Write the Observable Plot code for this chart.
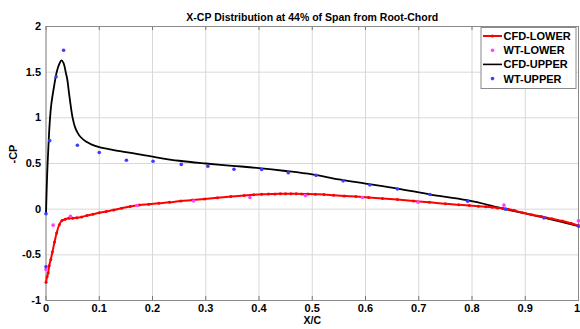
<!DOCTYPE html>
<html>
<head>
<meta charset="utf-8">
<script src="https://cdn.jsdelivr.net/npm/d3@7"></script>
<script src="https://cdn.jsdelivr.net/npm/@observablehq/plot@0.6"></script>
<style>
  html, body { margin: 0; padding: 0; background: #fff; }
  #chart svg { display: block; font-family: "Liberation Sans", Arial, sans-serif; }
</style>
</head>
<body>
<div id="chart"></div>
<script>
// Pressure coefficient (-Cp) along the chord, 44% span station
const chartTitle = "X-CP Distribution at 44% of Span from Root-Chord";
const xTicks = [0, 0.1, 0.2, 0.3, 0.4, 0.5, 0.6, 0.7, 0.8, 0.9, 1];
const xTickLabels = ["0", "0.1", "0.2", "0.3", "0.4", "0.5", "0.6", "0.7", "0.8", "0.9", "1"];
const yTicks = [-1, -0.5, 0, 0.5, 1, 1.5, 2];
const yTickLabels = ["-1", "-0.5", "0", "0.5", "1", "1.5", "2"];
const seriesNames = ["CFD-LOWER", "WT-LOWER", "CFD-UPPER", "WT-UPPER"];

// CFD, lower surface
const cfdLowerX = [0, 0.002, 0.004, 0.006, 0.009, 0.012, 0.016, 0.020, 0.025, 0.030, 0.036, 0.043, 0.050, 0.058, 0.067, 0.077, 0.088, 0.100, 0.113, 0.127, 0.142, 0.158, 0.175, 0.193, 0.212, 0.232, 0.253, 0.275, 0.298, 0.322, 0.347, 0.372, 0.390, 0.405, 0.418, 0.430, 0.440, 0.450, 0.460, 0.470, 0.480, 0.492, 0.506, 0.522, 0.540, 0.560, 0.582, 0.606, 0.632, 0.660, 0.690, 0.720, 0.750, 0.775, 0.795, 0.812, 0.826, 0.838, 0.848, 0.858, 0.868, 0.880, 0.895, 0.912, 0.930, 0.950, 0.970, 0.986, 1.0];
const cfdLowerCp = [-0.80, -0.74, -0.70, -0.62, -0.55, -0.47, -0.36, -0.26, -0.17, -0.125, -0.11, -0.10, -0.10, -0.095, -0.085, -0.07, -0.055, -0.04, -0.025, -0.01, 0.01, 0.03, 0.045, 0.055, 0.065, 0.075, 0.09, 0.10, 0.112, 0.125, 0.138, 0.15, 0.158, 0.163, 0.165, 0.167, 0.168, 0.169, 0.169, 0.168, 0.167, 0.165, 0.163, 0.16, 0.153, 0.145, 0.138, 0.128, 0.118, 0.105, 0.09, 0.075, 0.058, 0.048, 0.04, 0.032, 0.026, 0.02, 0.014, 0.008, 0.0, -0.015, -0.04, -0.06, -0.08, -0.105, -0.13, -0.155, -0.18];

// Wind tunnel, lower surface
const wtLowerX = [0, 0.0135, 0.046, 0.171, 0.277, 0.383, 0.487, 0.594, 0.699, 0.860, 1.0];
const wtLowerCp = [-0.66, -0.175, -0.077, 0.04, 0.09, 0.128, 0.15, 0.128, 0.077, 0.044, -0.128];

// CFD, upper surface
const cfdUpperX = [0, 0.002, 0.004, 0.007, 0.010, 0.015, 0.020, 0.025, 0.029, 0.033, 0.037, 0.040, 0.043, 0.046, 0.050, 0.055, 0.060, 0.065, 0.075, 0.085, 0.100, 0.125, 0.150, 0.175, 0.200, 0.250, 0.300, 0.350, 0.400, 0.450, 0.500, 0.550, 0.600, 0.660, 0.722, 0.791, 0.863, 0.929, 1.0];
const cfdUpperCp = [-0.05, 0.35, 0.62, 0.95, 1.15, 1.34, 1.50, 1.59, 1.63, 1.60, 1.50, 1.42, 1.28, 1.15, 1.00, 0.89, 0.83, 0.79, 0.74, 0.71, 0.68, 0.65, 0.625, 0.60, 0.575, 0.53, 0.50, 0.475, 0.45, 0.418, 0.38, 0.325, 0.28, 0.226, 0.16, 0.098, 0.0, -0.084, -0.186];

// Wind tunnel, upper surface
const wtUpperX = [0, 0, 0.007, 0.019, 0.033, 0.059, 0.10, 0.151, 0.201, 0.254, 0.304, 0.353, 0.405, 0.455, 0.507, 0.558, 0.608, 0.660, 0.721, 0.792, 0.863, 0.935, 1.0];
const wtUpperCp = [-0.05, -0.63, 0.75, 1.45, 1.74, 0.70, 0.62, 0.535, 0.525, 0.49, 0.47, 0.437, 0.434, 0.40, 0.37, 0.31, 0.266, 0.22, 0.16, 0.087, 0.0, -0.095, -0.186];

const colors = { cfdLower: "#ff0000", wtLower: "#ff40ff", cfdUpper: "#000000", wtUpper: "#3c3cff" };

const pts = (xs, ys) => xs.map((x, i) => ({ x, cp: ys[i] }));
const cfdLower = pts(cfdLowerX, cfdLowerCp);
const wtLower = pts(wtLowerX, wtLowerCp);
const cfdUpper = pts(cfdUpperX, cfdUpperCp);
const wtUpper = pts(wtUpperX, wtUpperCp);

const W = 580, H = 329;
const mt = 26, mb = 29, ml = 45.5, mr = 2;
const innerH = H - mt - mb;
const font = "Liberation Sans, Arial, sans-serif";
const lastTick = xTicks.length - 1;
const xLabel = d => xTickLabels[xTicks.indexOf(d)];

const plot = Plot.plot({
  width: W,
  height: H,
  marginTop: mt,
  marginBottom: mb,
  marginLeft: ml,
  marginRight: mr,
  style: { fontFamily: font, fontSize: "11px", fontWeight: "bold", color: "#000", background: "#fff" },
  x: { domain: [0, 1] },
  y: { domain: [-1, 2] },
  marks: [
    Plot.gridX(xTicks, { stroke: "#d8d8d8", strokeOpacity: 1, strokeWidth: 1 }),
    Plot.gridY(yTicks, { stroke: "#d8d8d8", strokeOpacity: 1, strokeWidth: 1 }),
    // inward tick marks on top and bottom edges
    Plot.tickX(xTicks, { x: d => d, stroke: "#777", insetBottom: innerH - 4 }),
    Plot.tickX(xTicks, { x: d => d, stroke: "#777", insetTop: innerH - 4 }),
    Plot.frame({ stroke: "#8a8a8a" }),
    Plot.axisX(xTicks.slice(0, lastTick), { tickSize: 0, tickPadding: 4, tickFormat: xLabel, fontWeight: "bold", fontSize: 11, label: null }),
    // the "1" at the right edge is nudged inward so it stays inside the page
    Plot.axisX(xTicks.slice(lastTick), { tickSize: 0, tickPadding: 4, tickFormat: xLabel, fontWeight: "bold", fontSize: 11, label: null, dx: -1.5 }),
    Plot.axisY(yTicks, { tickSize: 0, tickPadding: 5, tickFormat: (d, i) => yTickLabels[i], fontWeight: "bold", fontSize: 11, label: null }),
    Plot.text(["X/C"], { frameAnchor: "bottom", dy: 23, text: d => d, fontWeight: "bold", fontSize: 10.5 }),
    Plot.text(["-CP"], { frameAnchor: "left", dx: -33, rotate: -90, text: d => d, fontWeight: "bold", fontSize: 11 }),
    Plot.text([chartTitle], { frameAnchor: "top", dy: -13, text: d => d, fontWeight: "bold", fontSize: 10.5 }),
    Plot.line(cfdUpper, { x: "x", y: "cp", stroke: colors.cfdUpper, strokeWidth: 1.8, curve: "catmull-rom" }),
    Plot.line(cfdLower, { x: "x", y: "cp", stroke: colors.cfdLower, strokeWidth: 2, curve: "catmull-rom" }),
    Plot.dot(cfdLower, { x: "x", y: "cp", r: 1.5, fill: colors.cfdLower, stroke: "none" }),
    Plot.dot(wtLower, { x: "x", y: "cp", r: 1.8, fill: colors.wtLower, stroke: "none" }),
    Plot.dot(wtUpper, { x: "x", y: "cp", r: 1.8, fill: colors.wtUpper, stroke: "none" })
  ]
});

// Legend box in the upper-right corner of the axes
const svg = d3.select(plot);
const lg = svg.append("g").attr("font-family", font).attr("font-size", 11)
  .attr("font-weight", "bold").attr("text-anchor", "start");
lg.append("rect").attr("x", 481).attr("y", 27.5).attr("width", 95).attr("height", 61)
  .attr("fill", "#fff").attr("stroke", "#8a8a8a");
const rows = [
  { name: seriesNames[0], color: colors.cfdLower, line: true, dot: true, w: 2 },
  { name: seriesNames[1], color: colors.wtLower, line: false, dot: true },
  { name: seriesNames[2], color: colors.cfdUpper, line: true, dot: false, w: 1.6 },
  { name: seriesNames[3], color: colors.wtUpper, line: false, dot: true }
];
rows.forEach((r, i) => {
  const y = 36 + i * 14.2;
  if (r.line) lg.append("line").attr("x1", 483).attr("x2", 502).attr("y1", y).attr("y2", y)
    .attr("stroke", r.color).attr("stroke-width", r.w);
  if (r.dot) lg.append("circle").attr("cx", 492.5).attr("cy", y).attr("r", r.line ? 1.6 : 1.8).attr("fill", r.color);
  lg.append("text").attr("x", 503.5).attr("y", y).attr("dy", "0.36em").attr("fill", "#000")
    .attr("text-anchor", "start").text(r.name);
});

document.getElementById("chart").appendChild(plot);
</script>
</body>
</html>
